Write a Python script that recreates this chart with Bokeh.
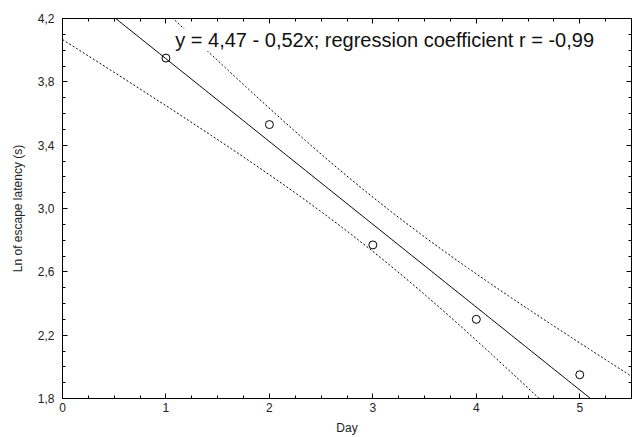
import numpy as np
from bokeh.plotting import figure
from bokeh.models import FixedTicker, LinearAxis, Label, Range1d
from bokeh.embed import file_html
from bokeh.resources import INLINE

# data
days = [1, 2, 3, 4, 5]
ln_latency = [3.95, 3.53, 2.77, 2.30, 1.95]
x_ticks = [0, 1, 2, 3, 4, 5]
x_tick_labels = ["0", "1", "2", "3", "4", "5"]
y_ticks = [1.8, 2.2, 2.6, 3.0, 3.4, 3.8, 4.2]
y_tick_labels = ["1,8", "2,2", "2,6", "3,0", "3,4", "3,8", "4,2"]
equation_text = "y = 4,47 - 0,52x; regression coefficient r = -0,99"
T_975_DF3 = 3.182

# regression and 95% confidence band of the mean, derived from the points
xd = np.array(days, dtype=float)
yd = np.array(ln_latency, dtype=float)
slope, intercept = np.polyfit(xd, yd, 1)
resid = yd - (intercept + slope * xd)
s = np.sqrt(np.sum(resid ** 2) / (len(xd) - 2))
sxx = np.sum((xd - xd.mean()) ** 2)
xg = np.linspace(0, 5.5, 200)
yg = intercept + slope * xg
half = T_975_DF3 * s * np.sqrt(1 / len(xd) + (xg - xd.mean()) ** 2 / sxx)

FONT = "Liberation Sans"

p = figure(width=633, height=437, output_backend="svg", toolbar_location=None,
           x_range=Range1d(0, 5.5), y_range=Range1d(1.8, 4.2),
           min_border_left=62, min_border_right=2, min_border_top=18,
           min_border_bottom=39)
p.grid.visible = False
p.background_fill_color = "white"
p.border_fill_color = "white"
p.outline_line_color = "black"
p.outline_line_width = 1

p.line(xg, yg, line_color="black", line_width=1)
p.line(xg, yg + half, line_color="black", line_width=1, line_dash="2 2")
p.line(xg, yg - half, line_color="black", line_width=1, line_dash="2 2")
p.scatter(days, ln_latency, marker="circle", size=8, line_color="black",
          line_width=1, fill_alpha=0)

xminor = [i * 0.25 for i in range(0, 23)]
yminor = [1.8 + i * 0.1 for i in range(0, 25)]

def style(ax, ticks, minor, labels, show_labels=True):
    ax.ticker = FixedTicker(ticks=ticks, minor_ticks=minor)
    ax.major_tick_in = 5
    ax.major_tick_out = 0
    ax.minor_tick_in = 3
    ax.minor_tick_out = 0
    ax.axis_line_color = "black"
    ax.major_tick_line_color = "black"
    ax.minor_tick_line_color = "black"
    ax.major_label_text_font = FONT
    ax.major_label_text_font_size = "12px"
    ax.major_label_text_color = "#222222"
    ax.axis_label_text_font = FONT
    ax.axis_label_text_font_size = "12px"
    ax.axis_label_text_font_style = "normal"
    ax.axis_label_text_color = "#222222"
    if show_labels:
        ax.major_label_overrides = {t: l for t, l in zip(ticks, labels)}
    else:
        ax.major_label_overrides = {t: "" for t in ticks}
        ax.major_label_standoff = 0

style(p.xaxis[0], x_ticks, xminor, x_tick_labels)
style(p.yaxis[0], y_ticks, yminor, y_tick_labels)
p.xaxis[0].axis_label = "Day"
p.xaxis[0].major_label_standoff = 4
p.xaxis[0].axis_label_standoff = 6
p.yaxis[0].axis_label = "Ln of escape latency (s)"
p.yaxis[0].major_label_standoff = 8
p.yaxis[0].axis_label_standoff = 10

top = LinearAxis()
right = LinearAxis()
style(top, x_ticks, xminor, x_tick_labels, show_labels=False)
style(right, y_ticks, yminor, y_tick_labels, show_labels=False)
p.add_layout(top, "above")
p.add_layout(right, "right")

p.add_layout(Label(x=1.09, y=4.065, text=equation_text, text_font=FONT,
                   text_font_size="20px", text_color="#111111",
                   text_baseline="middle",
                   background_fill_color="white"))

open("out.html", "w").write(file_html(p, INLINE))
